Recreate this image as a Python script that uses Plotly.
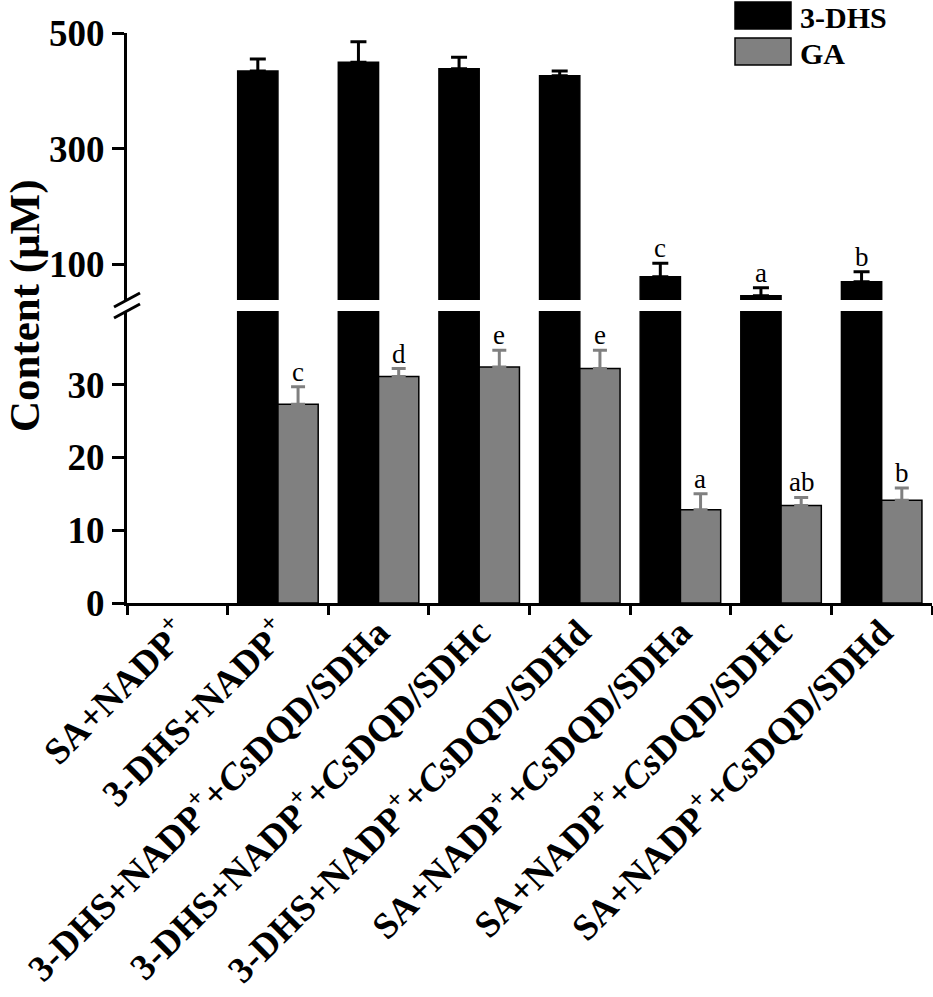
import plotly.graph_objects as go

# 数据
categories = [
    'SA+NADP<sup>+</sup>',
    '3-DHS+NADP<sup>+</sup>',
    '3-DHS+NADP<sup>+</sup>+<i>Cs</i>DQD/SDHa',
    '3-DHS+NADP<sup>+</sup>+<i>Cs</i>DQD/SDHc',
    '3-DHS+NADP<sup>+</sup>+<i>Cs</i>DQD/SDHd',
    'SA+NADP<sup>+</sup>+<i>Cs</i>DQD/SDHa',
    'SA+NADP<sup>+</sup>+<i>Cs</i>DQD/SDHc',
    'SA+NADP<sup>+</sup>+<i>Cs</i>DQD/SDHd',
]
dhs_values = [None, 434.3, 449.3, 438.2, 426.1, 78.3, 45.4, 69.7]
dhs_errors = [0, 20.7, 35.7, 19.8, 8.2, 23.2, 13.9, 17.3]
dhs_letters = ['', '', '', '', '', 'c', 'a', 'b']
ga_values = [None, 27.3, 31.1, 32.4, 32.2, 12.8, 13.4, 14.1]
ga_errors = [0, 2.4, 1.1, 2.3, 2.5, 2.2, 1.1, 1.7]
ga_letters = ['', 'c', 'd', 'e', 'e', 'a', 'ab', 'b']
lower_ticks = [0, 10, 20, 30]
upper_ticks = [100, 300, 500]

# 像素布局
W, H = 933, 997
ML, MR, MT, MB = 127, 1, 33, 394
PW, PH = W - ML - MR, H - MT - MB
AXIS_BOTTOM = H - MB


def px_x(px):
    return (px - ML) / PW


def px_y(py):
    return (AXIS_BOTTOM - py) / PH


FONT = 'Liberation Serif'
GRAY = '#808080'

fig = go.Figure()

# 下半段
fig.add_trace(go.Bar(
    x=categories, y=dhs_values, name='3-DHS',
    marker=dict(color='black', line=dict(color='black', width=1.5)),
    xaxis='x', yaxis='y', showlegend=False,
))
fig.add_trace(go.Bar(
    x=categories, y=ga_values, name='GA',
    marker=dict(color=GRAY, line=dict(color='black', width=1.5)),
    error_y=dict(type='data', symmetric=False, array=ga_errors,
                 arrayminus=[0] * len(ga_errors), color=GRAY, thickness=3, width=7),
    xaxis='x', yaxis='y', showlegend=False,
))

# 上半段
fig.add_trace(go.Bar(
    x=categories, y=dhs_values, name='3-DHS',
    marker=dict(color='black', line=dict(color='black', width=1.5)),
    error_y=dict(type='data', symmetric=False, array=dhs_errors,
                 arrayminus=[0] * len(dhs_errors), color='black', thickness=3, width=8),
    xaxis='x', yaxis='y2', showlegend=False,
))
fig.add_trace(go.Bar(
    x=categories, y=ga_values, name='GA',
    marker=dict(color=GRAY, line=dict(color='black', width=1.5)),
    xaxis='x', yaxis='y2', showlegend=False, hoverinfo='skip',
))

# 显著性字母
for cat, v, e, t in zip(categories, ga_values, ga_errors, ga_letters):
    if t:
        fig.add_annotation(x=cat, y=v + e, xref='x', yref='y', text=t, showarrow=False,
                           xshift=20, yshift=-2, yanchor='bottom',
                           font=dict(family=FONT, size=27, color='black'))
for cat, v, e, t in zip(categories, dhs_values, dhs_errors, dhs_letters):
    if t:
        fig.add_annotation(x=cat, y=v + e, xref='x', yref='y2', text=t, showarrow=False,
                           xshift=-20, yshift=-2, yanchor='bottom',
                           font=dict(family=FONT, size=27, color='black'))

# y 轴标题
fig.add_annotation(x=px_x(25), y=px_y(306), xref='paper', yref='paper',
                   xanchor='center', yanchor='middle',
                   text='Content (μM)', textangle=-90, showarrow=False,
                   font=dict(family=FONT, size=43, color='black', weight='bold'))

# 断轴标记
for yb in [300, 311]:
    fig.add_shape(type='line', xref='paper', yref='paper',
                  x0=px_x(ML - 13), y0=px_y(yb + 7), x1=px_x(ML + 13), y1=px_y(yb - 7),
                  line=dict(color='black', width=3))

# 图例（手绘方块）
legend_items = [('3-DHS', 'black', 2, 29), ('GA', GRAY, 38, 65)]
for label, color, top, bottom in legend_items:
    fig.add_shape(type='rect', xref='paper', yref='paper',
                  x0=px_x(735), x1=px_x(791), y0=px_y(bottom), y1=px_y(top),
                  fillcolor=color, line=dict(color='black', width=1.5))
    fig.add_annotation(x=px_x(798), y=px_y((top + bottom) / 2 + 2), xref='paper', yref='paper',
                       text=label, showarrow=False, xanchor='left', yanchor='middle',
                       font=dict(family=FONT, size=30, color='black', weight='bold'))

tickfont = dict(family=FONT, size=37, color='black', weight='bold')

fig.update_layout(
    template='none',
    width=W, height=H,
    margin=dict(l=ML, r=MR, t=MT, b=MB, pad=0),
    paper_bgcolor='white', plot_bgcolor='white',
    barmode='group', bargap=0.2, bargroupgap=0,
    showlegend=False,
    xaxis=dict(
        type='category', anchor='y', domain=[0, 1],
        showline=True, linecolor='black', linewidth=3,
        ticks='outside', tickson='boundaries', ticklen=9, tickwidth=3, tickcolor='black',
        tickangle=-45, tickfont=tickfont, ticklabelstandoff=-10,
        showgrid=False, zeroline=False,
    ),
    yaxis=dict(
        domain=[0, px_y(311)], range=[0, 40.1], anchor='x',
        tickvals=lower_ticks, showline=True, linecolor='black', linewidth=3,
        ticks='outside', ticklen=12, tickwidth=3, tickcolor='black',
        tickfont=tickfont, showgrid=False, zeroline=False,
    ),
    yaxis2=dict(
        domain=[px_y(300), 1], range=[38, 500], anchor='x',
        tickvals=upper_ticks, showline=True, linecolor='black', linewidth=3,
        ticks='outside', ticklen=12, tickwidth=3, tickcolor='black',
        tickfont=tickfont, showgrid=False, zeroline=False,
    ),
)

# 去掉页面默认的 body 边距，隐藏工具栏
fig.write_html('out.html', config={'displayModeBar': False},
               post_script="document.body.style.margin='0';")
